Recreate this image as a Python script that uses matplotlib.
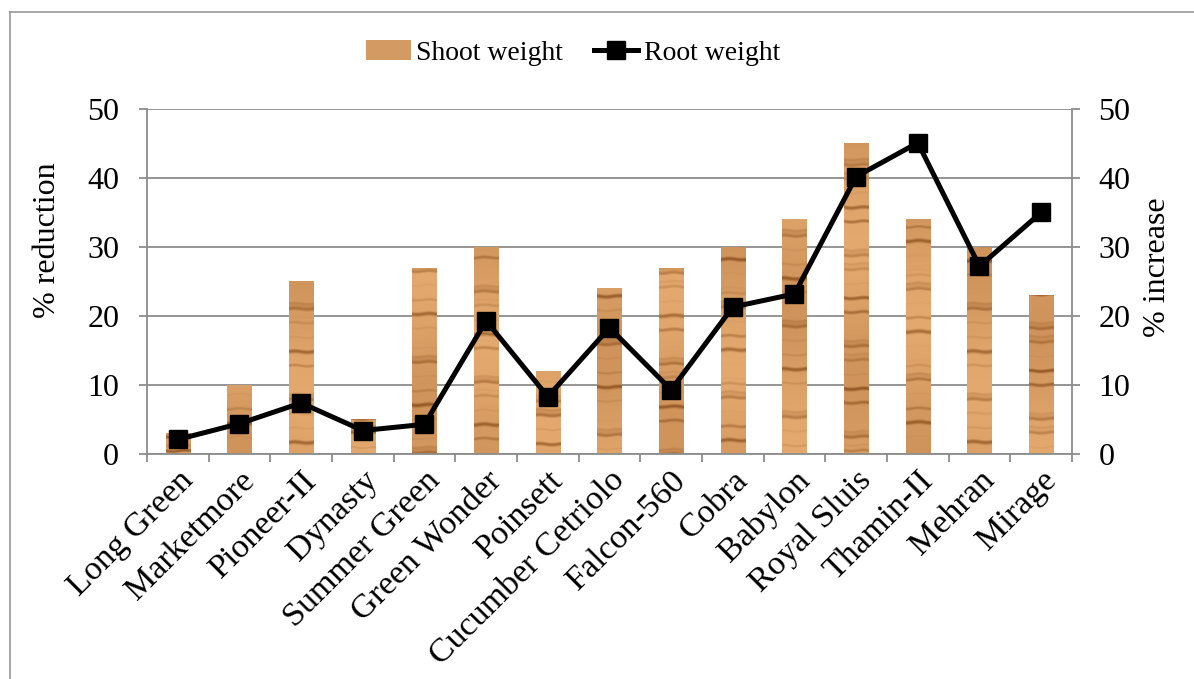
import matplotlib
matplotlib.use('Agg')
import matplotlib.pyplot as plt
import numpy as np
from matplotlib.lines import Line2D
from matplotlib.patches import Patch

plt.rcParams['font.family'] = ['Liberation Serif', 'DejaVu Serif']

cultivars = ['Long Green', 'Marketmore', 'Pioneer-II', 'Dynasty', 'Summer Green',
             'Green Wonder', 'Poinsett', 'Cucumber Cetriolo', 'Falcon-560', 'Cobra',
             'Babylon', 'Royal Sluis', 'Thamin-II', 'Mehran', 'Mirage']
shoot_weight = [3, 10, 25, 5, 27, 30, 12, 24, 27, 30, 34, 45, 34, 30, 23]
root_weight = [2.1, 4.4, 7.4, 3.4, 4.3, 19.3, 8.3, 18.3, 9.3, 21.3, 23.2, 40.2, 45.1, 27.2, 35.0]

GRID = '#8c8c8c'
WOOD_LIGHT = np.array([0.89, 0.66, 0.43])
WOOD_DARK = np.array([0.58, 0.34, 0.14])


def wood_texture(nrows, ncols, phase):
    """Horizontal wood-grain streaks built from a few mixed sine waves."""
    yy, xx = np.mgrid[0:nrows, 0:ncols].astype(float)
    yy = yy + 0.6 * np.sin(xx / ncols * np.pi * 2 + phase)
    g = (np.sin(yy * 0.41 + phase) + 0.8 * np.sin(yy * 0.137 + 2 * phase)
         + 0.6 * np.sin(yy * 0.89 + 3 * phase))
    g = (g - g.min()) / (g.max() - g.min())
    streak = np.clip((g - 0.6) / 0.4, 0, 1) ** 1.3
    tone = 0.5 + 0.5 * np.sin(yy * 0.023 + phase)
    t = np.clip(streak * 0.75 + tone * 0.25, 0, 1)[..., None]
    return WOOD_LIGHT * (1 - t) + WOOD_DARK * t


fig = plt.figure(figsize=(11.94, 6.79), dpi=100)
ax = fig.add_axes([0.1231, 0.3314, 0.7747, 0.5081])
x = np.arange(len(cultivars))
width = 0.39

bars = ax.bar(x, shoot_weight, width=width, color='none', zorder=2)
for i, (b, h) in enumerate(zip(bars, shoot_weight)):
    rows = max(int(h * 7), 2)
    tex = wood_texture(rows, 24, phase=i * 1.7)
    im = ax.imshow(tex, extent=(b.get_x(), b.get_x() + width, 0, h), origin='lower',
                   aspect='auto', interpolation='bilinear', zorder=2)
    im.set_clip_path(b)

ax.set_xlim(-0.5, len(cultivars) - 0.5)
ax.set_ylim(0, 50)
ax.set_yticks(range(0, 51, 10))
ax.yaxis.grid(True, color=GRID, linewidth=1.3, zorder=0)
ax.set_axisbelow(True)
ax.set_xticks(x)
ax.set_xticklabels(cultivars, rotation=45, ha='right', va='top', rotation_mode='anchor',
                   fontsize=24.5)
ax.set_xticks(np.arange(-0.5, len(cultivars)), minor=True)
ax.tick_params(axis='x', which='major', length=0, pad=8)
ax.tick_params(axis='x', which='minor', length=6, width=1.3, color=GRID)
ax.tick_params(axis='y', length=6, width=1.3, color=GRID, labelsize=23, pad=14)
ax.set_ylabel('% reduction', fontsize=23)
ax.yaxis.set_label_coords(-0.092, 0.62)
for side in ['left', 'bottom']:
    ax.spines[side].set_color(GRID)
    ax.spines[side].set_linewidth(1.3)
ax.spines['top'].set_visible(False)
ax.spines['right'].set_visible(False)

ax2 = ax.twinx()
ax2.plot(x, root_weight, color='black', linewidth=3.6, marker='s', markersize=13, zorder=3)
ax2.set_ylim(0, 50)
ax2.set_yticks(range(0, 51, 10))
ax2.tick_params(axis='y', length=6, width=1.3, color=GRID, labelsize=23, pad=13)
ax2.set_ylabel('% increase', fontsize=23)
ax2.yaxis.set_label_coords(1.077, 0.542)
ax2.spines['right'].set_color(GRID)
ax2.spines['right'].set_linewidth(1.3)
for side in ['top', 'left', 'bottom']:
    ax2.spines[side].set_visible(False)

handles = [Patch(facecolor='#d49a64', edgecolor='none'),
           Line2D([], [], color='black', linewidth=3.6, marker='s', markersize=13)]
fig.legend(handles, ['Shoot weight', 'Root weight'], loc='center', ncol=2,
           bbox_to_anchor=(0.48, 0.922), frameon=False, fontsize=20,
           handlelength=1.6, handletextpad=0.2, columnspacing=1.1)

# outer frame (left and top edges)
fig.add_artist(Line2D([0.0084, 0.0084], [0, 0.9823], color='#a0a0a0', linewidth=1.3))
fig.add_artist(Line2D([0.0084, 1], [0.9823, 0.9823], color='#a0a0a0', linewidth=1.3))

fig.savefig('out.png', dpi=100)
